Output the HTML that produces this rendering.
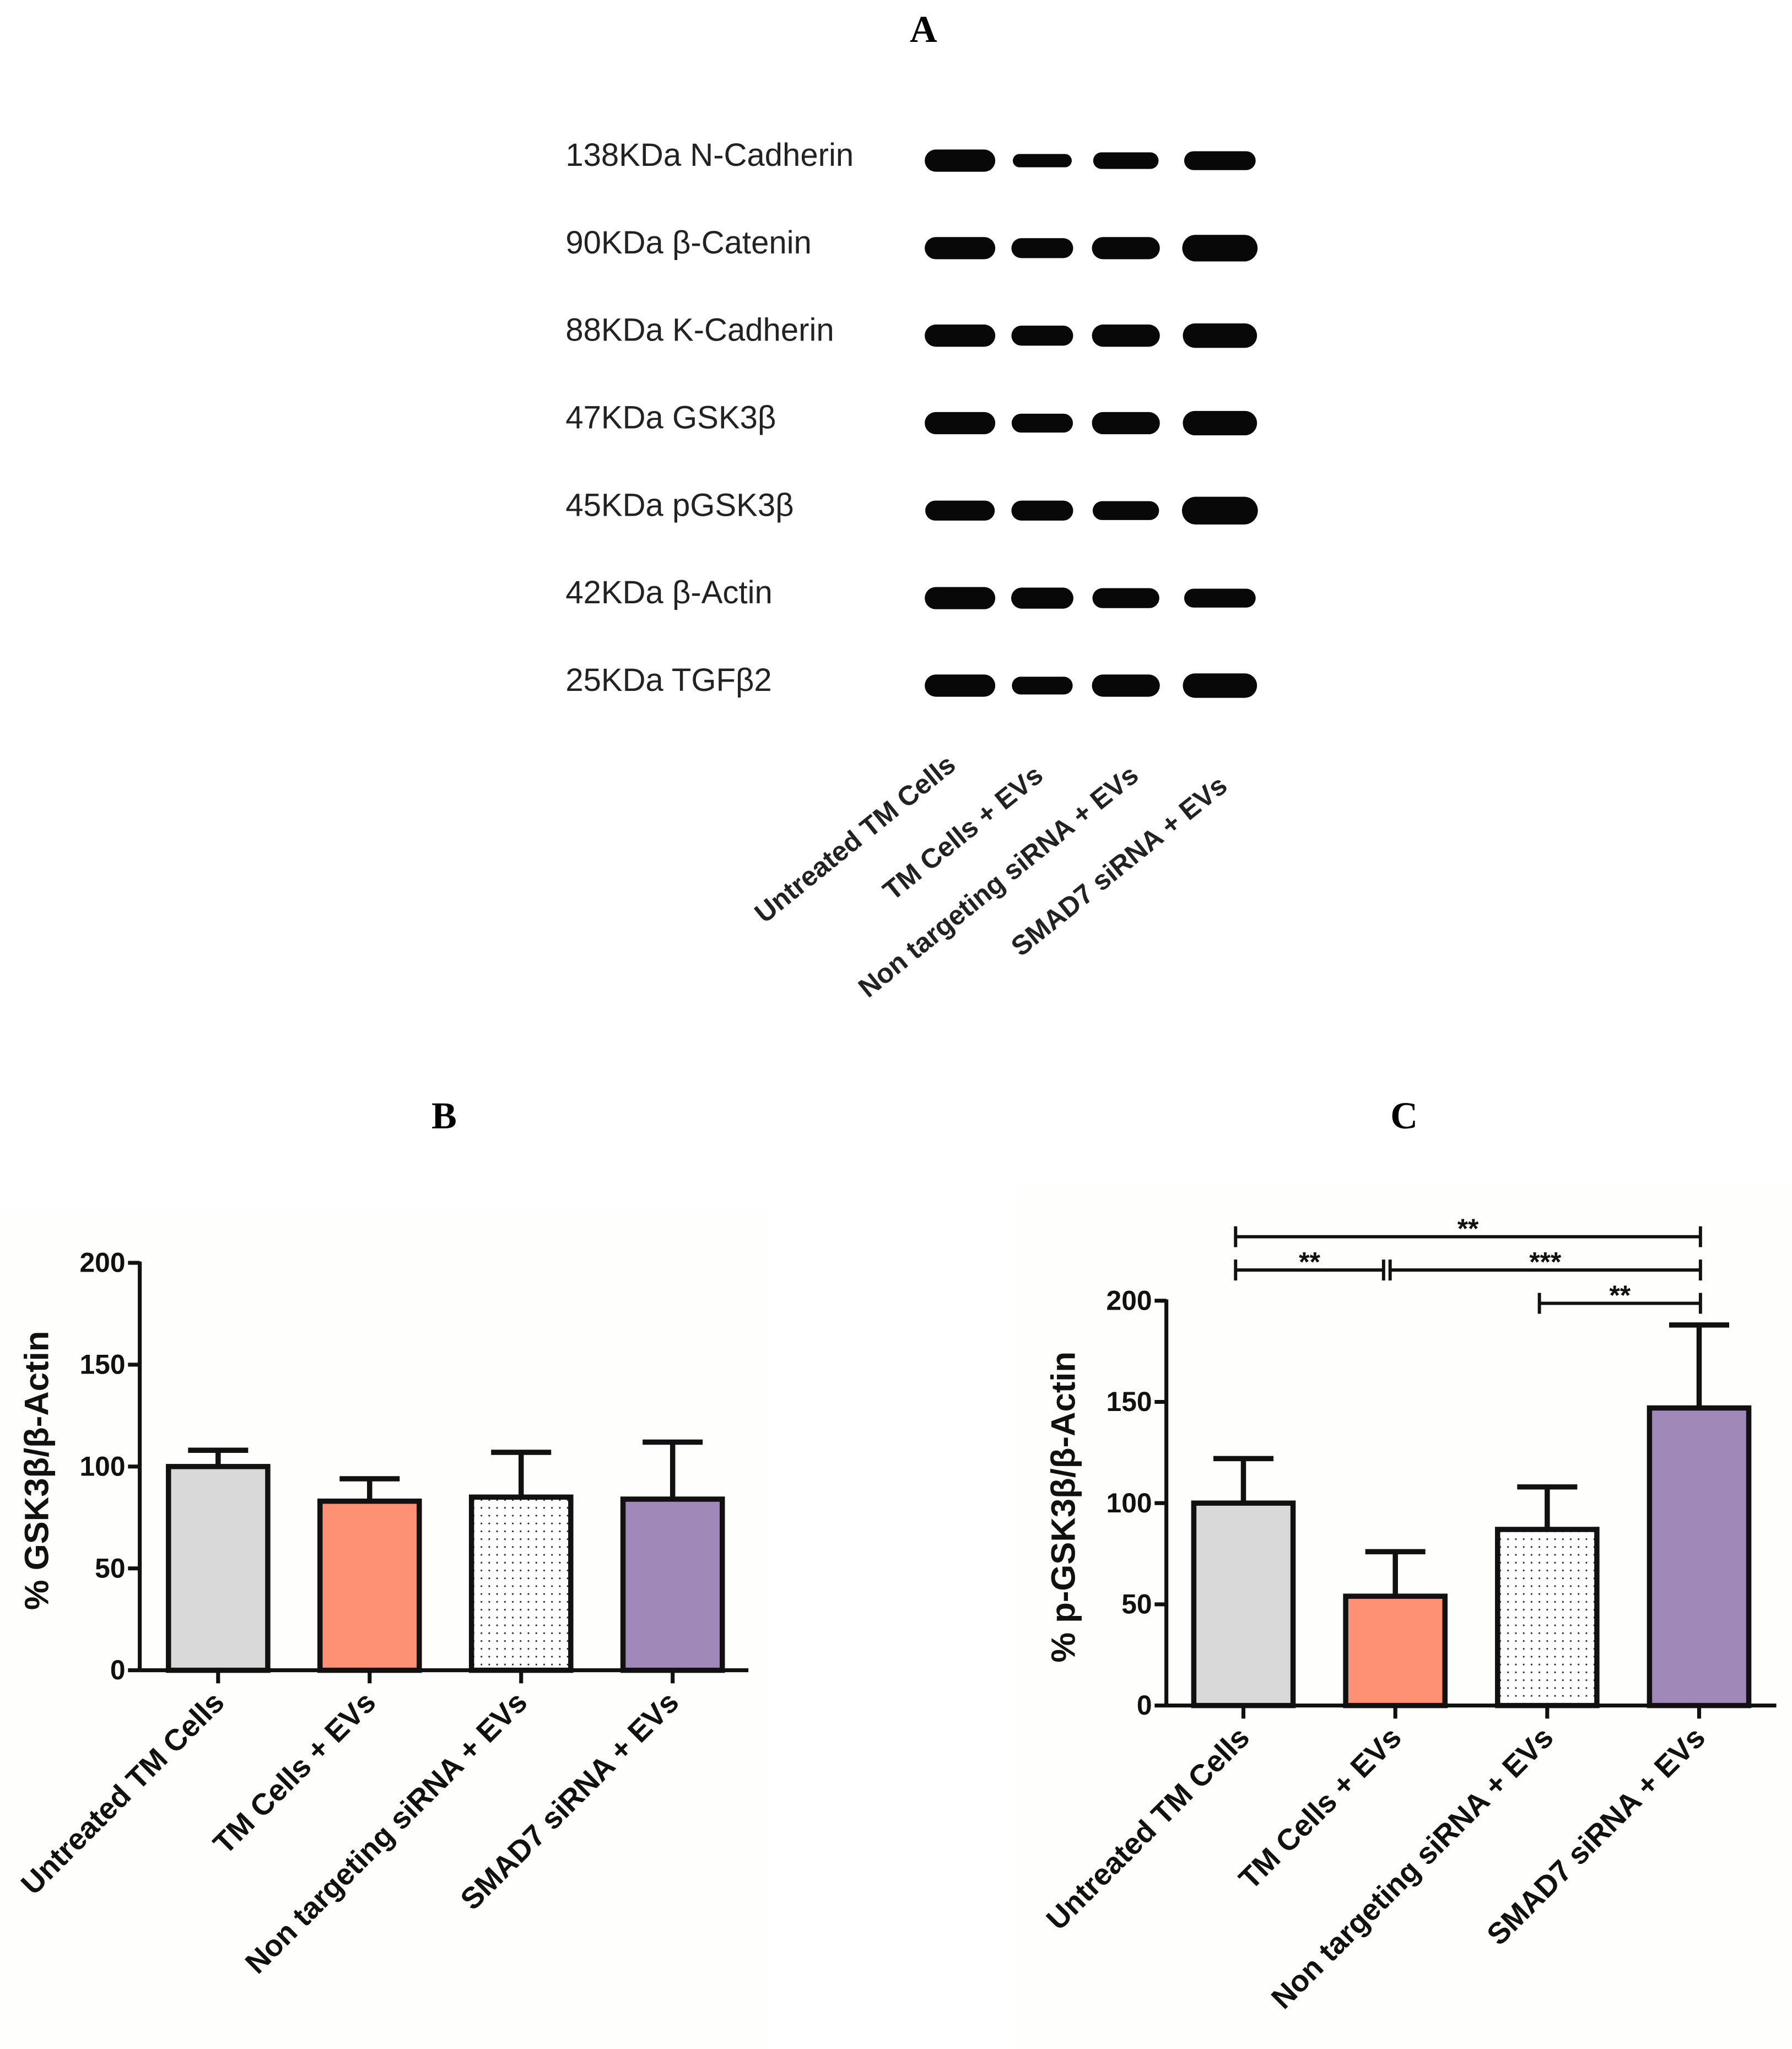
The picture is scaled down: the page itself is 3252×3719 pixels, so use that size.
<!DOCTYPE html>
<html><head><meta charset="utf-8"><style>
html,body{margin:0;padding:0;background:#fff}
svg{display:block}
.t{font-family:"Liberation Sans",sans-serif;font-weight:bold;fill:#111}
.w{font-family:"Liberation Sans",sans-serif;fill:#222}
</style></head><body>
<svg id="fig" width="3252" height="3719" viewBox="0 0 1372 1569" xmlns="http://www.w3.org/2000/svg">
<defs>
<pattern id="dots" width="6" height="6" patternUnits="userSpaceOnUse"><rect width="6" height="6" fill="#fff"/><rect x="2" y="2" width="1.2" height="1.2" fill="#222"/></pattern>
</defs>
<rect x="0" y="925" width="588" height="644" fill="#fefefd"/>
<rect x="778" y="908" width="594" height="661" fill="#fefefd"/>
<text x="707" y="32" text-anchor="middle" style="font-family:'Liberation Serif',serif;font-weight:bold;font-size:29px">A</text>
<text x="340" y="864" text-anchor="middle" style="font-family:'Liberation Serif',serif;font-weight:bold;font-size:29px">B</text>
<text x="1075" y="864" text-anchor="middle" style="font-family:'Liberation Serif',serif;font-weight:bold;font-size:29px">C</text>
<g id="blot"></g>
<g id="chartB"></g>
<g id="chartC"></g>
</svg>
<script>
const NS="http://www.w3.org/2000/svg";
const categories=["Untreated TM Cells","TM Cells + EVs","Non targeting siRNA + EVs","SMAD7 siRNA + EVs"];
const fills=["#d9d9d9","#fe9173","url(#dots)","#a089b8"];
const gskValues=[100,83,85,84];
const gskErrors=[108,94,107,112];
const pgskValues=[100,54,87,147];
const pgskErrors=[122,76,108,188];
const yTicks=[0,50,100,150,200];
const blotLabels=["138KDa N-Cadherin","90KDa β-Catenin","88KDa K-Cadherin","47KDa GSK3β","45KDa pGSK3β","42KDa β-Actin","25KDa TGFβ2"];
const bandIntensity=[[1,0.6,0.75,0.85],[1,0.9,1,1.2],[1,0.9,1,1.1],[1,0.85,1,1.1],[0.9,0.9,0.85,1.25],[1,0.95,0.9,0.85],[1,0.8,1,1.1]];
const sigBrackets=[[0,3,2,"**"],[0,1,1,"**"],[1,3,1,"***"],[2,3,0,"**"]];

function mk(tag,attrs,parent){const e=document.createElementNS(NS,tag);for(const k in attrs)e.setAttribute(k,attrs[k]);parent.appendChild(e);return e;}

const blot=document.getElementById('blot');
const laneX=[735,798,862,934], laneW=[54,48,52,56];
blotLabels.forEach((lab,i)=>{
  const y=127+i*67;
  const t=mk('text',{x:433,y:y,class:'w','font-size':24.5},blot);
  
  
  t.textContent=lab;
  bandIntensity[i].forEach((v,j)=>{
    const h=17*v, w=laneW[j]*Math.min(1.1,0.85+0.15*v);
    const r=mk('rect',{x:laneX[j]-w/2,y:y-4-h/2,width:w,height:h,rx:h/2,fill:'#080808'},blot);
    
    
  });
});
const laneEnds=[[733,588],[800,596],[873,596],[941,604]];
categories.forEach((c,j)=>{
  const t=mk('text',{x:laneEnds[j][0],y:laneEnds[j][1],'text-anchor':'end',class:'w','font-size':21,'font-weight':'bold',transform:`rotate(-39 ${laneEnds[j][0]} ${laneEnds[j][1]})`},blot);
  
  
  t.textContent=c;
});

function chart(g,cfg,vals,errs){
  const y=v=>cfg.y0-(v/200)*(cfg.y0-cfg.y200);
  const cx=i=>cfg.c0+i*cfg.step;
  yTicks.forEach(v=>{
    const l=mk('line',{x1:cfg.ax-9,x2:cfg.ax,y1:y(v),y2:y(v),stroke:'#111','stroke-width':3},g);
    
    
    const t=mk('text',{x:cfg.ax-11,y:y(v)+7,'text-anchor':'end',class:'t','font-size':21},g);
    
    
    t.textContent=v;
  });
  vals.forEach((v,i)=>{
    const e=mk('line',{x1:cx(i),x2:cx(i),y1:y(v),y2:y(errs[i]),stroke:'#111','stroke-width':4},g);
    
    
    const cap=mk('line',{x1:cx(i)-23,x2:cx(i)+23,y1:y(errs[i]),y2:y(errs[i]),stroke:'#111','stroke-width':4},g);
    
    
    const b=mk('rect',{x:cx(i)-38,y:y(v),width:76,height:y(0)-y(v),fill:fills[i],stroke:'#111','stroke-width':4},g);
    
    
    const tk=mk('line',{x1:cx(i),x2:cx(i),y1:y(0),y2:y(0)+10,stroke:'#111','stroke-width':3},g);
    
    
    const lx=cx(i)+6,ly=y(0)+26;
    const t=mk('text',{x:lx,y:ly,'text-anchor':'end',class:'t','font-size':23,transform:`rotate(-45 ${lx} ${ly})`},g);
    
    
    t.textContent=categories[i];
  });
  const ya=mk('line',{x1:cfg.ax,x2:cfg.ax,y1:y(200)-1,y2:y(0),stroke:'#111','stroke-width':3},g);
  
  
  const xa=mk('line',{x1:cfg.ax,x2:cfg.xend,y1:y(0),y2:y(0),stroke:'#111','stroke-width':3},g);
  
  
  const tx=cfg.ax-70, ty=(y(0)+y(200))/2+3;
  const tt=mk('text',{x:tx,y:ty,'text-anchor':'middle',class:'t','font-size':26,transform:`rotate(-90 ${tx} ${ty})`},g);
  
  
  tt.textContent=cfg.title;
  return {cx,y};
}
chart(document.getElementById('chartB'),{ax:107,y0:1279,y200:967,c0:167,step:116,xend:573,title:"% GSK3β/β-Actin"},gskValues,gskErrors);
const gc=document.getElementById('chartC');
const s=chart(gc,{ax:893,y0:1306,y200:996,c0:952,step:116.3,xend:1360,title:"% p-GSK3β/β-Actin"},pgskValues,pgskErrors);
sigBrackets.forEach(([a,b,lvl,lab])=>{
  const yy=998-lvl*25.5;
  const x1=a===1?s.cx(a)-4:s.cx(a)-6, x2=b===1?s.cx(b)-9:s.cx(b)+1;
  const l=mk('line',{x1:x1,x2:x2,y1:yy,y2:yy,stroke:'#111','stroke-width':2.5},gc);
  
  
  [x1,x2].forEach(x=>{const e=mk('line',{x1:x,x2:x,y1:yy-8,y2:yy+8,stroke:'#111','stroke-width':2.5},gc);
    
    });
  const t=mk('text',{x:(x1+x2)/2,y:yy+1,'text-anchor':'middle',class:'t','font-size':21},gc);
  
  
  t.textContent=lab;
});
</script>
</body></html>
